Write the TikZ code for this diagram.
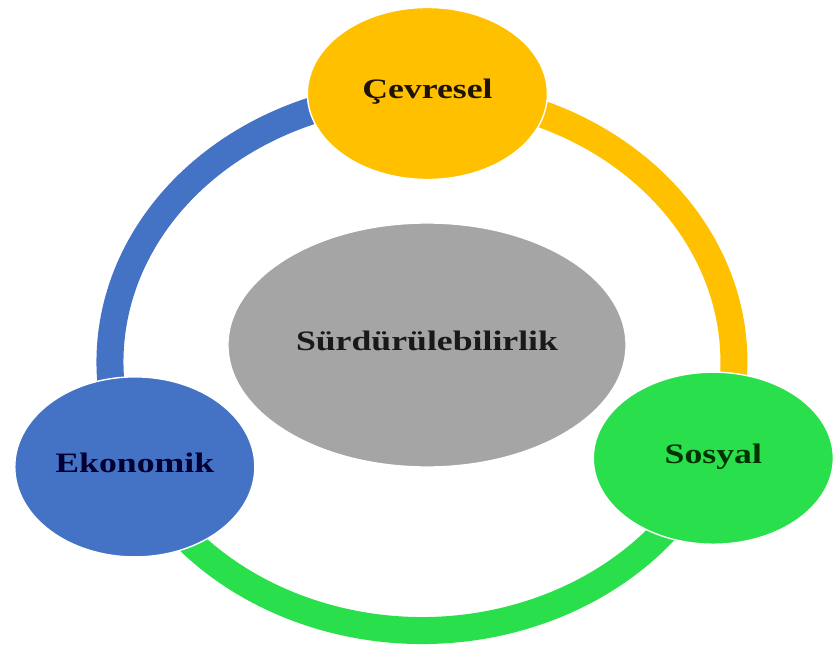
\documentclass[tikz,border=0pt]{standalone}
\usepackage{fontspec}
\setmainfont{Liberation Serif}[FakeStretch=1.27]
\usetikzlibrary{shapes.geometric}
\definecolor{sari}{HTML}{FFC000}
\definecolor{mavi}{HTML}{4472C4}
\definecolor{yesil}{HTML}{29DF4B}
\definecolor{gri}{HTML}{A5A5A5}
\begin{document}
\begin{tikzpicture}[x=0.025cm,y=0.025cm,
  part/.style={ellipse,draw=white,line width=1pt,inner sep=0pt,minimum width=6cm,minimum height=4.3cm,
    font=\fontsize{20}{24}\selectfont\bfseries,text height=1.7ex,text depth=0pt},
  band/.style={line width=0.675cm,x radius=312,y radius=268.5}]
\useasboundingbox (0,0) rectangle (836,646);
\coordinate (c0) at (427.4,552.5);
\coordinate (e0) at (134.8,179.1);
\coordinate (s0) at (713.3,187.8);
% ring
\draw[band,sari] (c0) arc[start angle=89,end angle=-21];
\draw[band,mavi] (c0) arc[start angle=89,end angle=203];
\draw[band,yesil] (e0) arc[start angle=203,end angle=339];
% parts
\node[part,fill=gri,minimum width=9.95cm,minimum height=6.1cm,text=black!90] (m)at(427,301){Sürdürülebilirlik};
\node[part,fill=sari,text=black!85!brown] (c)at(c0){Çevresel};
\node[part,fill=mavi,minimum height=4.5cm,text=blue!20!black] (e)at(e0){Ekonomik};
\node[part,fill=yesil,text=green!20!black] (s)at(s0){Sosyal};
\end{tikzpicture}
\end{document}
